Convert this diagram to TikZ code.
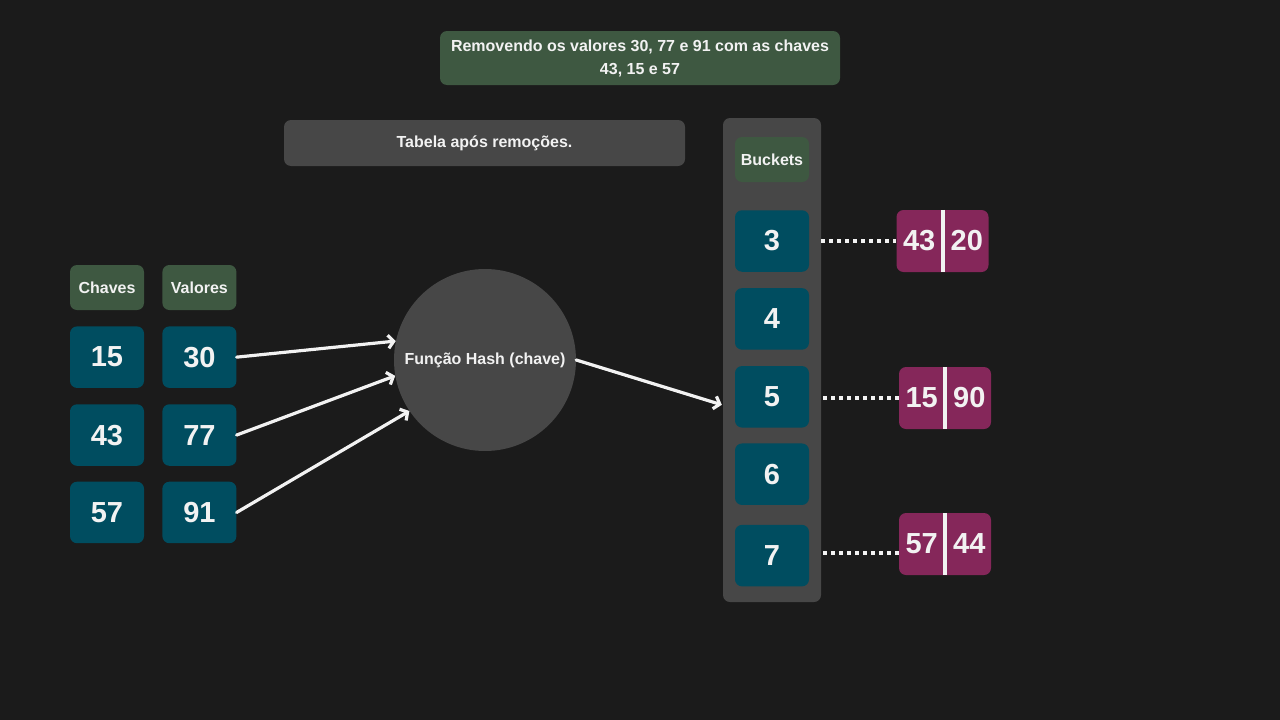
\documentclass[tikz,border=0pt]{standalone}
\usepackage{fontspec}
\setmainfont{Liberation Sans}
\usetikzlibrary{positioning,arrows.meta}

\definecolor{bgdark}{RGB}{27,27,27}
\definecolor{boxgreen}{RGB}{62,88,65}
\definecolor{boxblue}{RGB}{0,77,96}
\definecolor{boxgray}{RGB}{71,71,71}
\definecolor{boxplum}{RGB}{133,39,90}
\definecolor{ink}{RGB}{242,242,242}

\begin{document}
\begin{tikzpicture}%
  [x=1pt,y=-1pt,
   label/.style=
    {fill=boxgreen,rounded corners=7pt,text=ink,font=\fontsize{16}{23}\selectfont\bfseries,align=center},
   number/.style=
    {fill=boxblue,rounded corners=7pt,minimum width=74pt,minimum height=61.5pt,text=ink,font=\fontsize{29}{32}\selectfont\bfseries},
   pair/.style=
    {fill=boxplum,rounded corners=7pt,minimum width=92pt,minimum height=62pt},
   pairnum/.style=
    {inner sep=0pt,text=ink,font=\fontsize{29}{32}\selectfont\bfseries},
   flow/.style={draw=ink,line width=3.2pt,line cap=round,-{Straight Barb[length=5.5pt,width=13pt]}},
   link/.style={draw=ink,line width=4pt,dash pattern=on 4pt off 4pt},
   divider/.style={draw=ink,line width=4pt}
  ]
  \fill[bgdark] (0,0) rectangle (1280,720);

  \node[label,minimum width=400pt,minimum height=54pt] (title) at (640,58)
    {Removendo os valores 30, 77 e 91 com as chaves\\43, 15 e 57};
  \node[label,fill=boxgray,minimum width=401pt,minimum height=46pt] (note) at (484.5,143)
    {Tabela após remoções.};

  % keys and values
  \node[label,minimum width=74pt,minimum height=45pt] (keyhead) at (107,287.5) {Chaves};
  \node[label,minimum width=74pt,minimum height=45pt,right=18pt of keyhead] (valhead) {Valores};
  \node[number,below=16pt of keyhead] (k15) {15};
  \node[number,below=16pt of k15] (k43) {43};
  \node[number,below=15.5pt of k43] (k57) {57};
  \node[number,below=16pt of valhead] (v30) {30};
  \node[number,below=16pt of v30] (v77) {77};
  \node[number,below=15.5pt of v77] (v91) {91};

  \node[circle,fill=boxgray,minimum size=182pt,text=ink,font=\fontsize{16}{19}\selectfont\bfseries]
    (hash) at (485,360) {Função Hash (chave)};

  % buckets
  \node[fill=boxgray,rounded corners=7pt,minimum width=98pt,minimum height=484pt] (panel) at (772,360) {};
  \node[label,minimum width=74pt,minimum height=45pt] (buckets) at (772,159.5) {Buckets};
  \node[number] (b3) at (772,241) {3};
  \node[number,below=16pt of b3] (b4) {4};
  \node[number,below=16pt of b4] (b5) {5};
  \node[number,below=15.5pt of b5] (b6) {6};
  \node[number,below=19.5pt of b6] (b7) {7};

  % remaining entries
  \node[pair] (p3) at (942.5,241) {};
  \node[pairnum,left=7pt of p3.center] (p3k) {43};
  \node[pairnum,right=8pt of p3.center] (p3v) {20};
  \draw[divider] (p3.north) -- (p3.south);
  \node[pair] (p5) at (945,398) {};
  \node[pairnum,left=7pt of p5.center] (p5k) {15};
  \node[pairnum,right=8pt of p5.center] (p5v) {90};
  \draw[divider] (p5.north) -- (p5.south);
  \node[pair] (p7) at (945,544) {};
  \node[pairnum,left=7pt of p7.center] (p7k) {57};
  \node[pairnum,right=8pt of p7.center] (p7v) {44};
  \draw[divider] (p7.north) -- (p7.south);

  \draw[flow] (v30.east) -- (hash.168);
  \draw[flow] (v77.east) -- (hash.190);
  \draw[flow] (v91.east) -- (hash.214);
  \coordinate (in5) at (panel.west |- b5.west);
  \draw[flow] (hash.east) -- ([yshift=-8pt,xshift=-1pt]in5);

  \draw[link] (panel.east |- b3.east) -- (p3.west);
  \draw[link] ([xshift=2pt]panel.east |- p5.west) -- (p5.west);
  \draw[link] ([xshift=2pt,yshift=3pt]panel.east |- b7.east) -- ([yshift=3pt]p7.west |- b7.east);

\end{tikzpicture}
\end{document}
